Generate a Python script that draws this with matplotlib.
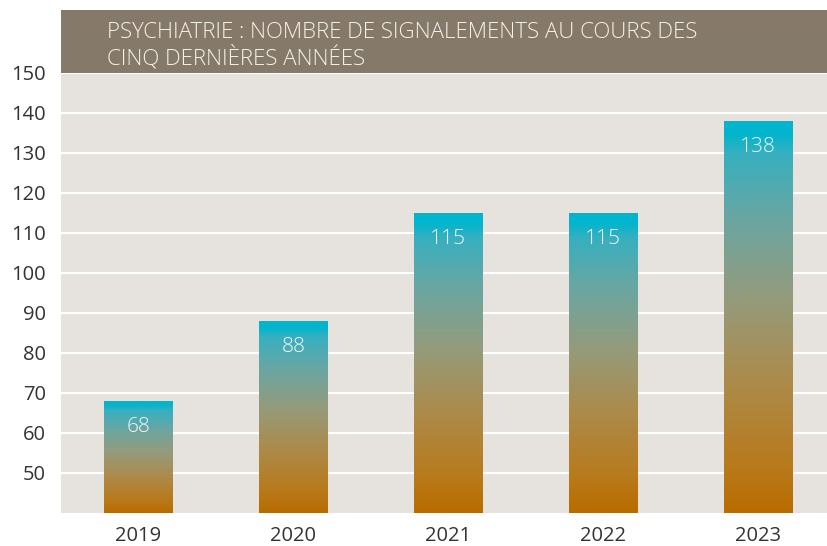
import matplotlib
matplotlib.use("Agg")
from matplotlib import pyplot as plt
from matplotlib.colors import LinearSegmentedColormap
from matplotlib.patches import Rectangle
import numpy as np

years = ["2019", "2020", "2021", "2022", "2023"]
counts = [68, 88, 115, 115, 138]
y_ticks = [50, 60, 70, 80, 90, 100, 110, 120, 130, 140, 150]
title = "PSYCHIATRIE : NOMBRE DE SIGNALEMENTS AU COURS DES\nCINQ DERNIÈRES ANNÉES"

plt.rcParams['font.family'] = ['Open Sans', 'DejaVu Sans']

# bottom -> top of each bar
grad = LinearSegmentedColormap.from_list("grad", [
    (0.0, "#b96c00"),
    (0.12, "#b87a1c"),
    (0.35, "#ab8c4e"),
    (0.55, "#949b7c"),
    (0.75, "#6aa6a2"),
    (0.92, "#36b0c0"),
    (0.97, "#00b5cd"),
    (1.0, "#00b5cd"),
])

fig = plt.figure(figsize=(8.28, 5.46), dpi=100)
ax = fig.add_axes([61/828, 33/546, 767/828, 440/546])
ax.set_facecolor("#e6e2dd")
ymin = 40
ax.set_ylim(ymin, 150)
ax.set_xlim(-0.5, 4.45)

x = np.arange(len(years))
bars = ax.bar(x, [c - ymin for c in counts], bottom=ymin, width=0.445, color="none", zorder=3)
g = np.linspace(0, 1, 256).reshape(-1, 1)
for b, c in zip(bars, counts):
    x0 = b.get_x()
    im = ax.imshow(g, cmap=grad, origin="lower", aspect="auto",
                   extent=[x0, x0 + b.get_width(), ymin, c], zorder=3)
    im.set_clip_path(b)
    ax.text(b.get_x() + b.get_width()/2, c - 6.5, str(c), ha="center", va="center",
            color="#f6f6f6", fontsize=15, fontweight="light", zorder=4)

ax.set_yticks(y_ticks)
ax.set_xticks(x)
ax.set_xticklabels(years)
ax.tick_params(length=0, labelsize=14.5, labelcolor="#333333")
ax.tick_params(axis="x", pad=9.5)
ax.tick_params(axis="y", pad=11)
ax.grid(axis="y", color="white", linewidth=1.5, zorder=1)
ax.set_axisbelow(True)
for s in ax.spines.values():
    s.set_visible(False)

# title band
fig.patches.append(Rectangle((61/828, 473/546), 767/828, 63/546, transform=fig.transFigure,
                             facecolor="#857a69", edgecolor="none"))
fig.text(107/828, 500/546, title, ha="left", va="center", color="#f6f2ea",
         fontsize=16, fontweight="light", linespacing=1.15)

fig.savefig("out.png", dpi=100)
